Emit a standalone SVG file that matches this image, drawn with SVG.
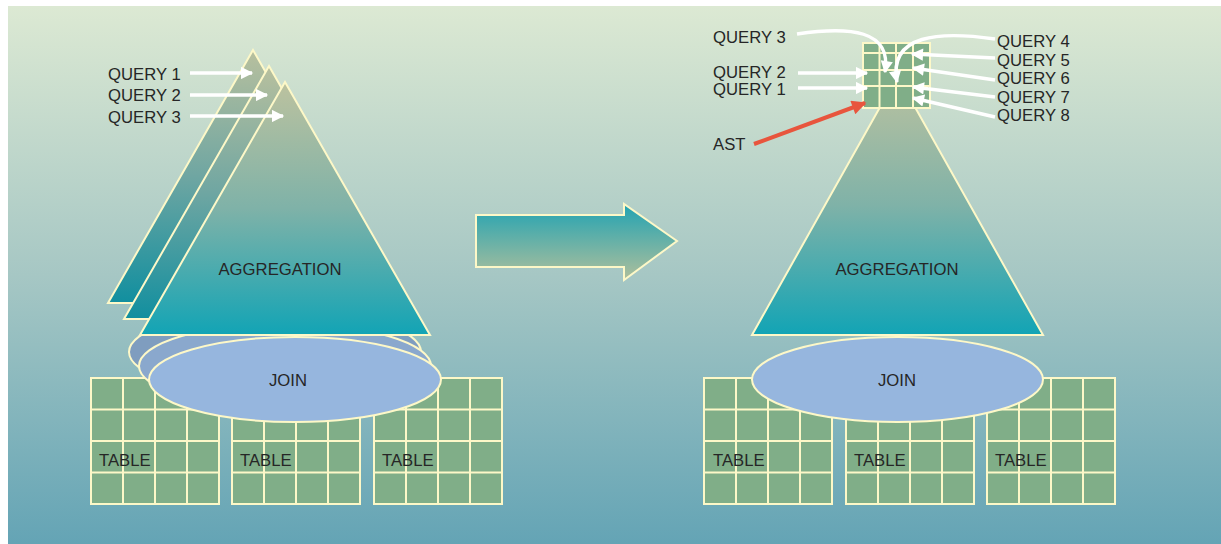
<svg xmlns="http://www.w3.org/2000/svg" width="1221" height="544" viewBox="0 0 1221 544">
<defs>
<linearGradient id="bg" x1="0" y1="0" x2="0" y2="1">
<stop offset="0" stop-color="#dce9d3"/>
<stop offset="0.5" stop-color="#a6c7c4"/>
<stop offset="1" stop-color="#64a4b5"/>
</linearGradient>
<linearGradient id="tri" x1="0" y1="0" x2="0" y2="1">
<stop offset="0" stop-color="#bcc29f"/>
<stop offset="0.5" stop-color="#7fb2a8"/>
<stop offset="1" stop-color="#12a4b5"/>
</linearGradient>
<linearGradient id="triBack" x1="0" y1="0" x2="0" y2="1">
<stop offset="0" stop-color="#b8c09e"/>
<stop offset="0.5" stop-color="#6fa6a2"/>
<stop offset="1" stop-color="#118f9f"/>
</linearGradient>
<linearGradient id="bigArrow" x1="0" y1="0" x2="0" y2="1">
<stop offset="0" stop-color="#22a3b2"/>
<stop offset="1" stop-color="#aebf9c"/>
</linearGradient>
<marker id="wh" viewBox="0 0 10 10" refX="9" refY="5" markerWidth="3.8" markerHeight="3.6" orient="auto" markerUnits="strokeWidth">
<path d="M0,0 L10,5 L0,10 z" fill="#ffffff"/>
</marker>
<marker id="rd" viewBox="0 0 10 10" refX="9" refY="5" markerWidth="4" markerHeight="3.6" orient="auto" markerUnits="strokeWidth">
<path d="M0,0 L10,5 L0,10 z" fill="#e8553d"/>
</marker>
<g id="tbl">
<rect x="0" y="0" width="128" height="126" fill="#80ae88" stroke="#fdf8c8" stroke-width="2"/>
<path d="M32,0 V126 M64,0 V126 M96,0 V126 M0,31.5 H128 M0,63 H128 M0,94.5 H128" stroke="#fdf8c8" stroke-width="2" fill="none"/>
</g>
</defs>
<style>
text{font-family:"Liberation Sans",Arial,sans-serif;font-size:16.7px;fill:#262626}
.tri{stroke:#fdf8c8;stroke-width:2;stroke-linejoin:miter}
.ell{stroke:#fdf8c8;stroke-width:2}
.wa{stroke:#ffffff;stroke-width:3.4;fill:none;marker-end:url(#wh)}
.ra{stroke:#e8553d;stroke-width:4;fill:none;marker-end:url(#rd)}
</style>
<rect x="8" y="6" width="1213" height="538" fill="url(#bg)"/>

<!-- LEFT -->
<g id="tables-left">
<use href="#tbl" x="91" y="378"/>
<use href="#tbl" x="232" y="378"/>
<use href="#tbl" x="374" y="378"/>
<text x="99" y="466">TABLE</text>
<text x="240" y="466">TABLE</text>
<text x="382" y="466">TABLE</text>
</g>
<g id="join-left">
<ellipse cx="275" cy="352" rx="146" ry="42.5" fill="#7f9dbf" class="ell"/>
<ellipse cx="285" cy="366" rx="146" ry="42.5" fill="#8aa8cd" class="ell"/>
<ellipse cx="295" cy="379.5" rx="146" ry="42.5" fill="#96b6de" class="ell"/>
<text x="288" y="386" text-anchor="middle">JOIN</text>
</g>
<g id="aggregation-left">
<polygon points="253,50 108,303 398,303" fill="url(#triBack)" class="tri"/>
<polygon points="269,66 124,319 414,319" fill="url(#triBack)" class="tri"/>
<polygon points="285,82 140,335 430,335" fill="url(#tri)" class="tri"/>
<text x="280" y="275" text-anchor="middle">AGGREGATION</text>
</g>
<g id="queries-left">
<text x="108" y="80">QUERY 1</text>
<text x="108" y="101">QUERY 2</text>
<text x="108" y="123">QUERY 3</text>
</g>

<!-- BIG ARROW -->
<g id="transform-arrow">
<polygon points="476,215 624,215 624,204 677,241 624,280 624,267 476,267" fill="url(#bigArrow)" stroke="#fdf8c8" stroke-width="2"/>
</g>

<!-- RIGHT -->
<g id="tables-right">
<use href="#tbl" x="704" y="378"/>
<use href="#tbl" x="846" y="378"/>
<use href="#tbl" x="987" y="378"/>
<text x="713" y="466">TABLE</text>
<text x="854" y="466">TABLE</text>
<text x="995" y="466">TABLE</text>
</g>
<g id="aggregation-right">
<polygon points="897.5,76 752,335 1043,335" fill="url(#tri)" class="tri"/>
<text x="897" y="275" text-anchor="middle">AGGREGATION</text>
</g>
<g id="join-right">
<ellipse cx="897.5" cy="379.5" rx="145.5" ry="42.5" fill="#96b6de" class="ell"/>
<text x="897" y="386" text-anchor="middle">JOIN</text>
</g>
<g id="ast">
<rect x="863" y="43" width="67" height="65" fill="#80ae88" stroke="#fdf8c8" stroke-width="2"/>
<path d="M879.5,43 V108 M896,43 V108 M913,43 V108 M863,53 H930 M863,70 H930 M863,86 H930" stroke="#fdf8c8" stroke-width="2" fill="none"/>
<text x="713" y="150">AST</text>
</g>
<g id="queries-right">
<text x="713" y="43">QUERY 3</text>
<text x="713" y="78">QUERY 2</text>
<text x="713" y="95">QUERY 1</text>
<text x="997" y="47">QUERY 4</text>
<text x="997" y="66">QUERY 5</text>
<text x="997" y="84">QUERY 6</text>
<text x="997" y="103">QUERY 7</text>
<text x="997" y="121">QUERY 8</text>
</g>

<g id="connectors">
<line x1="190" y1="73" x2="252" y2="73" class="wa"/>
<line x1="190" y1="95" x2="267" y2="95" class="wa"/>
<line x1="190" y1="116" x2="283" y2="116" class="wa"/>
<path d="M797,34 C850,26 892,30 885,72" class="wa"/>
<path d="M995,39 C940,31 888,34 897,82" class="wa"/>
<line x1="798" y1="73" x2="867" y2="73" class="wa"/>
<line x1="798" y1="88" x2="867" y2="88" class="wa"/>
<line x1="995" y1="58" x2="912" y2="54" class="wa"/>
<line x1="995" y1="80" x2="913" y2="68" class="wa"/>
<line x1="995" y1="97" x2="913" y2="87" class="wa"/>
<line x1="995" y1="117" x2="913" y2="98" class="wa"/>
<line x1="754" y1="144" x2="865" y2="103" class="ra"/>
</g>
</svg>
